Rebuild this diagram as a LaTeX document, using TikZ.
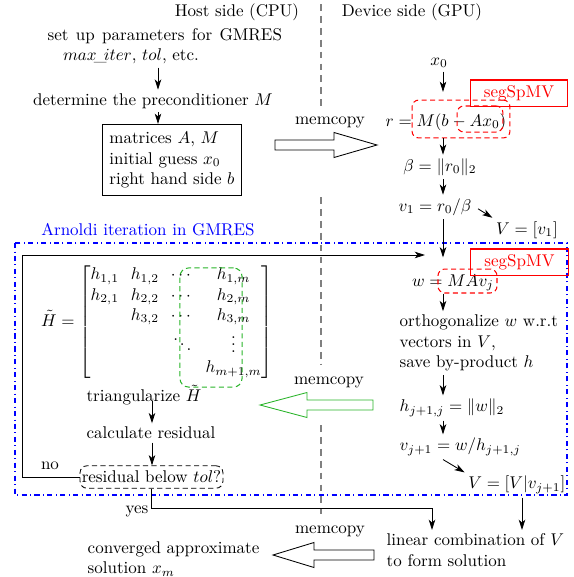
\documentclass[tikz,border=0pt]{standalone}
\usepackage{amsmath}
\usetikzlibrary{arrows.meta}
\definecolor{grn}{RGB}{40,180,40}
\newcommand\wsp{\hspace{4.3pt}}
\begin{document}
\begin{tikzpicture}[x=0.588pt,y=-0.588pt,
  txt/.style={inner sep=2pt},
  arr/.style={line width=0.5pt,-{Stealth[length=6pt,width=3.8pt,inset=1.6pt]}},
  inbox/.style={draw,line width=0.6pt,align=left,inner xsep=4pt,inner ysep=4.5pt},
  segbox/.style={draw=red,text=red,line width=0.6pt,minimum width=57.6pt,minimum height=15.3pt,inner sep=1pt},
  spmv/.style={draw=red,line width=0.6pt,dash pattern=on 3pt off 2pt,rounded corners=4pt,inner sep=0pt},
  gsel/.style={draw=grn,line width=0.6pt,dash pattern=on 3pt off 2pt,rounded corners=5pt,inner sep=0pt},
  resbox/.style={draw,line width=0.5pt,dash pattern=on 3pt off 2pt,rounded corners=4pt,inner xsep=1pt,inner ysep=3pt},
  sepline/.style={gray,line width=0.8pt,dash pattern=on 4pt off 3pt},
  fatarrow/.style={draw,line width=0.5pt,fill=white,line join=miter}]
\useasboundingbox (0,0) rectangle (574,577);

% host / device separator
\draw[sepline] (321,4) -- (321,106) (321,197) -- (321,365) (321,425) -- (321,514);

% headers
\node[txt] (host) at (237,12) {Host side (CPU)};
\node[txt] (dev) at (412,12) {Device side (GPU)};

% column guides
\coordinate (cL) at (158,0);
\coordinate (cR) at (443,0);
\coordinate (cL2) at (152,0);
\coordinate (cV) at (522,0);

% host setup
\node[txt,align=left,anchor=west] (setup) at (44,46) {set\wsp up\wsp parameters\wsp for\wsp GMRES\\\hspace*{9pt}$max\!\_\!iter$, $tol$, etc.};
\node[txt] (det) at (153,101) {determine the preconditioner $M$};
\node[inbox] (mats) at (172,160) {matrices $A$, $M$\\initial guess $x_0$\\right hand side $b$};
\draw[arr] (setup.south -| cL) -- (det.north -| cL);
\draw[arr] (det.south -| cL) -- (mats.north -| cL);

% copy to device
\node[txt] (mc1) at (330,122) {memcopy};
\draw[fatarrow] (275,140) -- (334,140) -- (334,132.5) -- (377,145) -- (334,157.5) -- (334,150) -- (275,150) -- cycle;

% device initialisation
\node[txt] (x0) at (439,63) {$x_0$};
\node[txt] (eqr) at (446,122) {$r = M(b - Ax_0)$};
\node[spmv,minimum width=57.6pt,minimum height=22.3pt] (spA) at (461,119) {};
\node[spmv,minimum width=27pt,minimum height=15.3pt] (spAi) at (480,119) {};
\node[segbox] (seg1) at (519,93) {segSpMV};
\node[txt] (beta) at (440,167) {$\beta = \|r_0\|_2$};
\node[txt] (v1) at (435,207) {$v_1 = r_0/\beta$};
\node[txt] (V1) at (527,230) {$V = [v_1]$};
\draw[arr,shorten >=4.5pt] (x0.south -| cR) -- (spA.north -| cR);
\draw[arr] (spA.south -| cR) -- (beta.north -| cR);
\draw[arr] (beta.south -| cR) -- (v1.north -| cR);
\draw[arr,shorten <=2pt] (v1.east) -- (V1.north west);

% Arnoldi iteration frame
\draw[blue,line width=0.6pt,dash dot] (15,243) rectangle (567,495);
\node[txt,text=blue] (arn) at (148,230) {Arnoldi iteration in GMRES};

% device loop body
\node[txt] (w) at (453,283) {$w = MAv_j$};
\node[spmv,minimum width=34.7pt,minimum height=14.1pt] (spB) at (467.5,281) {};
\node[segbox] (seg2) at (519.5,262) {segSpMV};
\draw[arr,shorten >=6.5pt] (v1.south -| cR) -- (spB.north -| cR);
\node[txt,align=left,anchor=west] (ortho) at (396,343) {orthogonalize $w$ w.r.t\\vectors in $V$,\\save by-product $h$};
\node[txt,anchor=west] (hj) at (396,408) {$h_{j+1,j} = \|w\|_2$};
\node[txt,anchor=west] (vj) at (396,447) {$v_{j+1} = w/h_{j+1,j}$};
\node[txt,anchor=east] (VV) at (569,485) {$V = [V|v_{j+1}]$};
\draw[arr] (spB.south -| cR) -- (ortho.north -| cR);
\draw[arr] (ortho.south -| cR) -- (hj.north -| cR);
\draw[arr] (hj.south -| cR) -- (vj.north -| cR);
\draw[arr] (vj.south -| cR) -- (VV.north west);

% copy Hessenberg column back to host
\node[txt] (mc2) at (329,382) {memcopy};
\draw[fatarrow,draw=grn] (373,400) -- (307,400) -- (307,392.5) -- (260,405) -- (307,417.5) -- (307,410) -- (373,410) -- cycle;

% host loop body
\node[txt] (Hmat) at (157,322) {\setlength\arraycolsep{3.5pt}$\tilde H = \begin{bmatrix}
 h_{1,1} & h_{1,2} & \cdots & h_{1,m}\\
 h_{2,1} & h_{2,2} & \cdots & h_{2,m}\\
         & h_{3,2} & \cdots & h_{3,m}\\
         &         & \ddots & \vdots\\
         &         &        & h_{m+1,m}
\end{bmatrix}$};
\node[gsel,minimum width=36.5pt,minimum height=70pt] (gcol) at (211,327.5) {};
\node[txt] (tri) at (144,395) {triangularize $\tilde H$};
\node[txt] (calc) at (151,433) {calculate residual};
\node[resbox] (res) at (151.5,477) {residual below $tol$?};
\draw[arr] (tri.base -| cL2) -- (calc.north -| cL2);
\draw[arr] (calc.south -| cL2) -- (res.north -| cL2);

% restart loop
\coordinate (fbc) at (22,255);
\coordinate (fbtip) at (425,255);
\draw[arr] (res.west) -| (fbc) -- (fbtip);
\node[txt] (no) at (50,466) {no};

% converged
\node[txt,align=left,anchor=west] (lin) at (383,550) {linear combination of $V$\\to form solution};
\coordinate (ybend) at (432,508);
\draw[arr] (res.south) |- (ybend) -- (lin.north -| ybend);
\node[txt] (yes) at (137,511) {yes};
\draw[arr] (VV.south -| cV) -- (lin.north -| cV);

% copy solution back
\node[txt] (mc3) at (330,531) {memcopy};
\draw[fatarrow] (374,550) -- (314,550) -- (314,542.5) -- (273,555) -- (314,567.5) -- (314,560) -- (374,560) -- cycle;
\node[txt,align=left,anchor=west] (conv) at (84,559) {converged approximate\\solution $x_m$};
\end{tikzpicture}
\end{document}
